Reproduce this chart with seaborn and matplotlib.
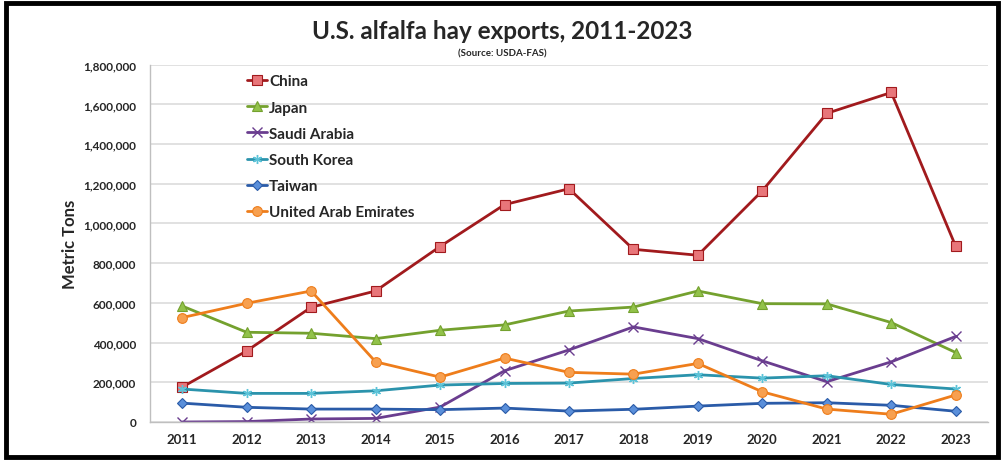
import numpy as np
import pandas as pd
import matplotlib
matplotlib.use("Agg")
import matplotlib.pyplot as plt
from matplotlib.patches import Rectangle
import seaborn as sns

# --- datos (toneladas metricas) ---
years = [str(y) for y in range(2011, 2024)]
china = [176000, 358000, 578000, 660000, 884000, 1095000, 1175000, 870000, 840000, 1165000, 1555000, 1660000, 885000]
japan = [584000, 452000, 447000, 420000, 462000, 489000, 559000, 579000, 660000, 596000, 595000, 501000, 350000]
saudi = [0, 2000, 15000, 18000, 75000, 258000, 363000, 479000, 420000, 308000, 203000, 303000, 431000]
korea = [166000, 144000, 144000, 157000, 186000, 194000, 196000, 219000, 238000, 221000, 233000, 189000, 166000]
taiwan = [95000, 74000, 65000, 65000, 62000, 70000, 55000, 64000, 80000, 94000, 97000, 84000, 54000]
uae = [526000, 598000, 660000, 303000, 226000, 322000, 250000, 241000, 295000, 152000, 65000, 39000, 136000]

countries = ["China", "Japan", "Saudi Arabia", "South Korea", "Taiwan", "United Arab Emirates"]
series = [china, japan, saudi, korea, taiwan, uae]

df = pd.DataFrame({
    "Year": years * len(countries),
    "Country": np.repeat(countries, len(years)),
    "Tons": np.concatenate(series),
})

# estilo de cada serie: color linea, relleno marcador, marcador
styles = {
    "China": ("#A11A1D", "#E8767A", "s"),
    "Japan": ("#74A12E", "#92C24A", "^"),
    "Saudi Arabia": ("#6A3D8F", "#6A3D8F", "x"),
    "South Korea": ("#2B93AC", "#5CC3D8", (6, 2, 0)),
    "Taiwan": ("#2A5BA8", "#5A8FDA", "D"),
    "United Arab Emirates": ("#EE7D1B", "#F7A050", "o"),
}

sns.set_style("white")
plt.rcParams['font.family'] = ['Lato', 'DejaVu Sans']
plt.rcParams['font.weight'] = 'bold'

fig = plt.figure(figsize=(10.04, 4.64), dpi=100)
ax = fig.add_axes([0.1494, 0.0884, 0.8346, 0.770])

for c in countries:
    lc, fc, mk = styles[c]
    sub = df[df["Country"] == c]
    ms = 7 if mk in ("s", "o", "^") else 6.5
    if mk == "D":
        ms = 5.5
    thin = mk in ("x", (6, 2, 0))
    sns.lineplot(data=sub, x="Year", y="Tons", ax=ax, color=lc, lw=2.0,
                 marker=mk, markersize=ms, markerfacecolor=fc,
                 markeredgecolor=fc if thin else lc,
                 markeredgewidth=1.0 if thin else 0.8,
                 label=c, legend=True)

ax.set_xlim(-0.5, len(years) - 0.5)
ax.set_ylim(0, 1800000)
ax.set_yticks(np.arange(0, 1800001, 200000))
ax.yaxis.set_major_formatter(matplotlib.ticker.FuncFormatter(lambda v, p: f"{int(v):,}"))
ax.grid(axis="y", color="#D9D9D9", lw=1.1)
ax.set_axisbelow(True)
for s in ["top", "right"]:
    ax.spines[s].set_visible(False)
for s in ["left", "bottom"]:
    ax.spines[s].set_color("#BFBFBF")
    ax.spines[s].set_linewidth(1.0)
ax.tick_params(axis="y", length=4, color="#BFBFBF", labelsize=8.5, pad=6)
ax.tick_params(axis="x", length=0, labelsize=9.5, pad=8)
for t in ax.get_xticklabels() + ax.get_yticklabels():
    t.set_fontweight("bold")

ax.set_xlabel("")
ax.set_ylabel("Metric Tons", fontsize=12, fontweight="bold", labelpad=4)

leg = ax.legend(loc="upper left", bbox_to_anchor=(0.109, 0.99), frameon=False,
                fontsize=11, labelspacing=0.8, handlelength=1.3, handletextpad=0.12,
                borderaxespad=0)
for t in leg.get_texts():
    t.set_fontweight("bold")

fig.text(0.5, 0.932, "U.S. alfalfa hay exports, 2011-2023", ha="center", va="center",
         fontsize=17.5, fontweight="bold")
fig.text(0.5, 0.884, "(Source: USDA-FAS)", ha="center", va="center",
         fontsize=7, fontweight="bold")

# marco negro alrededor de la figura
fig.patches.append(Rectangle((0.006, 0.013), 0.988, 0.978, transform=fig.transFigure,
                             fill=False, edgecolor="black", lw=3.5))

fig.savefig("out.png", dpi=100)
